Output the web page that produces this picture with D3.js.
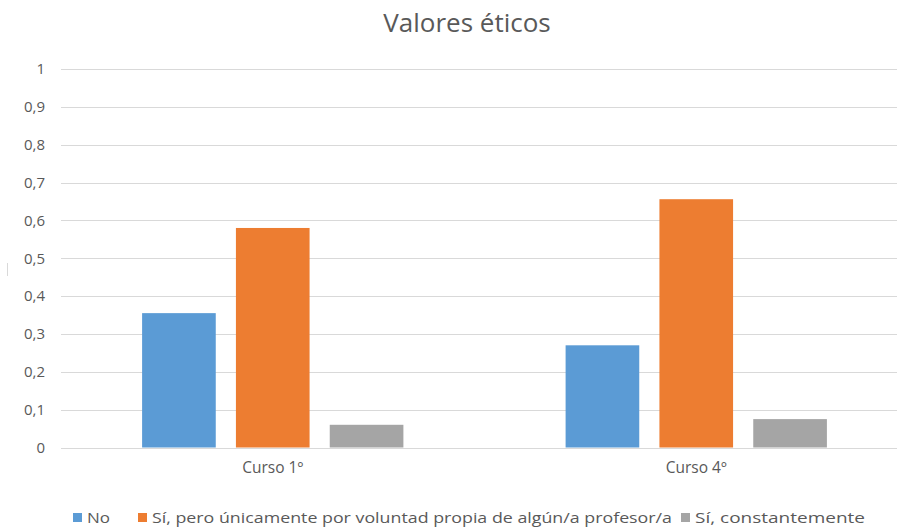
<!DOCTYPE html>
<html><head><meta charset="utf-8">
<script src="https://cdn.jsdelivr.net/npm/d3@7"></script>
<style>body{margin:0;background:#fff}svg{display:block}</style>
</head><body>
<script>
const categories = ["Curso 1º", "Curso 4º"];
const seriesNames = ["No", "Sí, pero únicamente por voluntad propia de algún/a profesor/a", "Sí, constantemente"];
const valuesNo = [0.355, 0.27];
const valuesSiProfesor = [0.58, 0.656];
const valuesSiConstante = [0.06, 0.075];
const seriesColors = ["#5B9BD5", "#ED7D31", "#A5A5A5"];
const yTicks = [0, 0.1, 0.2, 0.3, 0.4, 0.5, 0.6, 0.7, 0.8, 0.9, 1];
const title = "Valores éticos";

const W = 897, H = 529;
const font = "'Open Sans', 'Liberation Sans', Arial, sans-serif";
const svg = d3.select("body").append("svg").attr("width", W).attr("height", H);

const y = d3.scaleLinear().domain([0, 1]).range([447.5, 69]);
const x0 = d3.scaleBand().domain(categories).range([61, 908]).paddingInner(0.383).paddingOuter(0.1915);
const x1 = d3.scaleBand().domain(seriesNames).range([0, x0.bandwidth()]).paddingInner(0.215);

// gridlines
svg.append("g").selectAll("line").data(yTicks).join("line")
  .attr("x1", 61).attr("x2", W)
  .attr("y1", d => Math.round(y(d)) + 0.5).attr("y2", d => Math.round(y(d)) + 0.5)
  .attr("stroke", "#d9d9d9").attr("stroke-width", 1);

// y tick labels via axis
const yAxis = d3.axisLeft(y).tickValues(yTicks).tickSize(0).tickPadding(0)
  .tickFormat(d => d3.format(".1~f")(d).replace(".", ","));
const gy = svg.append("g").attr("transform", "translate(45,0)").call(yAxis);
gy.select(".domain").remove();
gy.selectAll("text").attr("fill", "#595959").style("font-family", font).style("font-size", "15px");

// x axis labels
const xAxis = d3.axisBottom(x0).tickSize(0).tickPadding(0);
const gx = svg.append("g").attr("transform", "translate(0,462)").call(xAxis);
gx.select(".domain").remove();
gx.selectAll("text").attr("fill", "#595959").style("font-family", font).style("font-size", "15.5px");

// bars
const seriesData = [valuesNo, valuesSiProfesor, valuesSiConstante];
const rows = [];
categories.forEach((c, i) => seriesNames.forEach((s, j) => rows.push({c, s, j, v: seriesData[j][i]})));
svg.append("g").selectAll("rect").data(rows).join("rect")
  .attr("x", d => x0(d.c) + x1(d.s))
  .attr("width", x1.bandwidth())
  .attr("y", d => y(d.v))
  .attr("height", d => y(0) - y(d.v))
  .attr("fill", d => seriesColors[d.j]);

// title
svg.append("text").attr("x", 467).attr("y", 32).attr("text-anchor", "middle")
  .attr("fill", "#595959").style("font-family", font).style("font-size", "26px").text(title);

// small artifact on left
svg.append("line").attr("x1", 7.5).attr("x2", 7.5).attr("y1", 263).attr("y2", 276).attr("stroke", "#d9d9d9");

// legend
const legendX = [73, 138, 681];
const legendW = [23, 520, 170];
const lg = svg.append("g");
seriesNames.forEach((s, j) => {
  lg.append("rect").attr("x", legendX[j]).attr("y", 513).attr("width", 9).attr("height", 9).attr("fill", seriesColors[j]);
  lg.append("text").attr("x", legendX[j] + 14).attr("y", 523).attr("fill", "#595959")
    .attr("textLength", legendW[j]).attr("lengthAdjust", "spacingAndGlyphs")
    .style("font-family", font).style("font-size", "15px").text(s);
});
</script>
</body></html>
